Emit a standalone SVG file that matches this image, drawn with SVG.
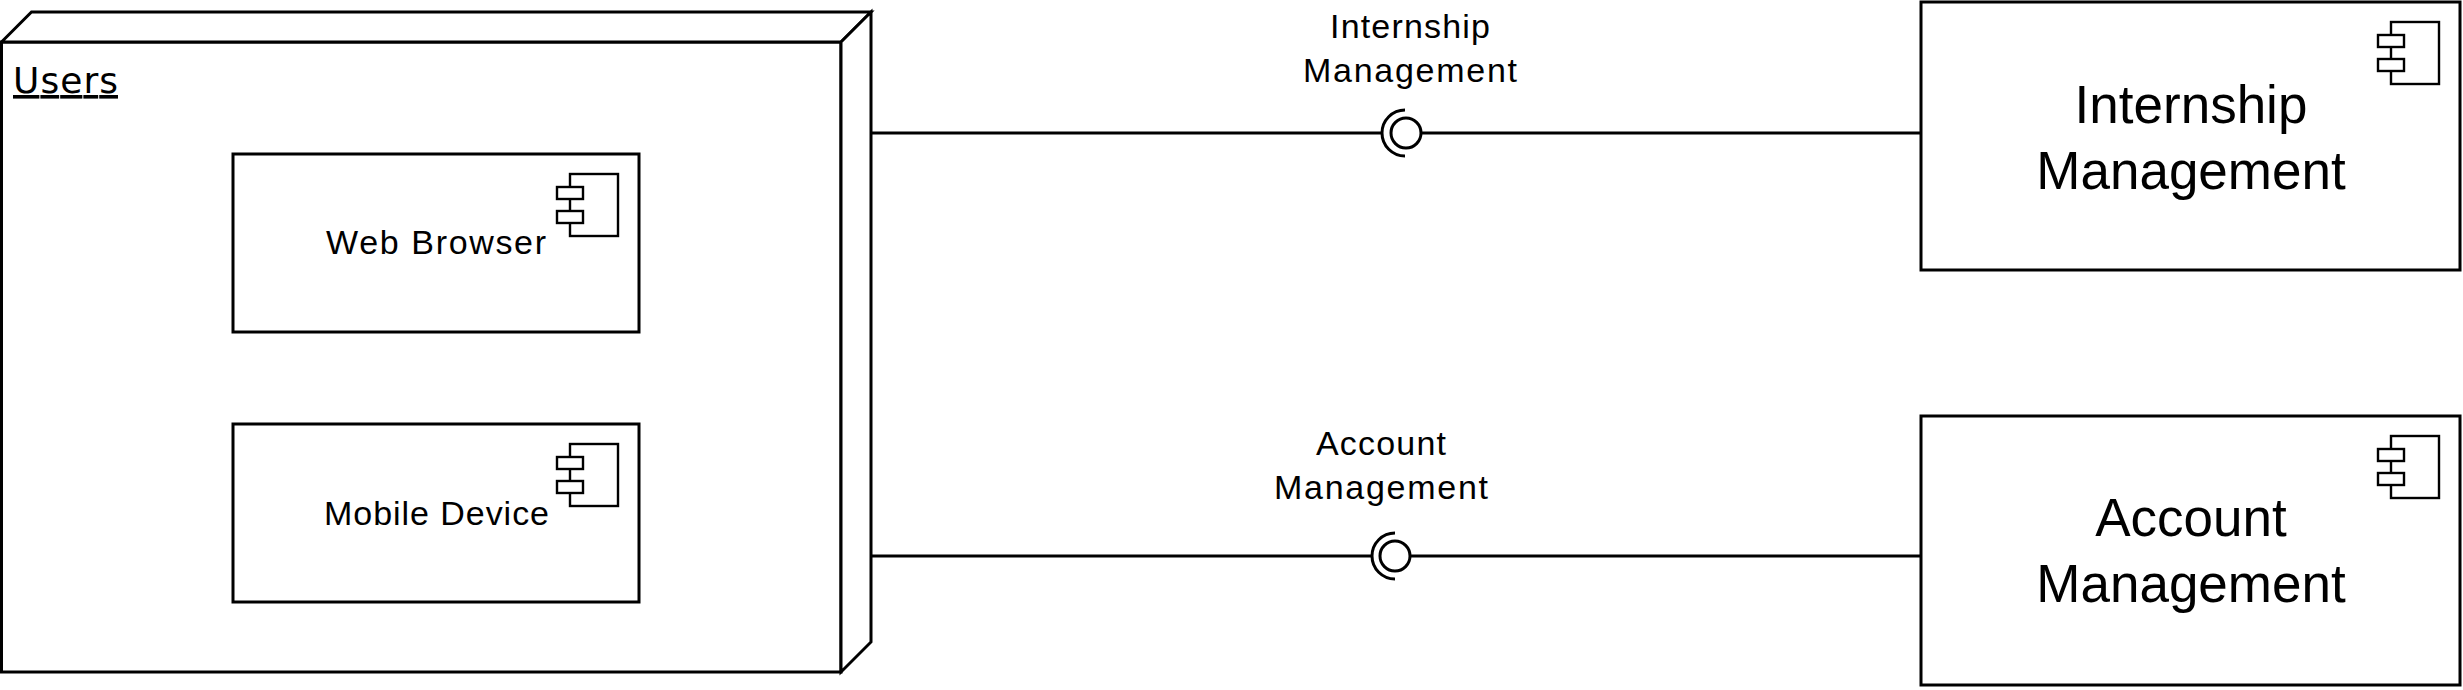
<svg xmlns="http://www.w3.org/2000/svg" width="2463" height="690" viewBox="0 0 2463 690">
<style>
.ln{fill:none;stroke:#000;stroke-width:3}
.bx{fill:#fff;stroke:#000;stroke-width:3}
.ic{fill:#fff;stroke:#000;stroke-width:2.4}
.t{font-family:"Liberation Sans",Arial,Helvetica,sans-serif;fill:#000}
.s31{font-size:34px}
.s53{font-size:53px}
.u{font-family:"DejaVu Sans",Verdana,sans-serif;font-size:36px;text-decoration:underline;fill:#000}
</style>
<defs>
<g id="cicon">
<rect class="ic" x="-69" y="20" width="48" height="62"/>
<rect class="ic" x="-82" y="33" width="26" height="12"/>
<rect class="ic" x="-82" y="57" width="26" height="12"/>
</g>
</defs>
<rect width="2463" height="690" fill="#fff"/>
<g id="connectors">
<line class="ln" x1="871" y1="133" x2="1382" y2="133"/>
<line class="ln" x1="1421" y1="133" x2="1921" y2="133"/>
<path class="ln" d="M1405,110 A23,23 0 0 0 1405,156"/>
<circle class="ln" cx="1406" cy="133" r="15"/>
<line class="ln" x1="871" y1="556" x2="1372" y2="556"/>
<line class="ln" x1="1410" y1="556" x2="1921" y2="556"/>
<path class="ln" d="M1395,533 A23,23 0 0 0 1395,579"/>
<circle class="ln" cx="1395" cy="556" r="15"/>
<text class="t s31" x="1410" y="38" text-anchor="middle" textLength="160" lengthAdjust="spacing">Internship</text>
<text class="t s31" x="1410" y="82" text-anchor="middle" textLength="214" lengthAdjust="spacing">Management</text>
<text class="t s31" x="1381" y="455" text-anchor="middle" textLength="130" lengthAdjust="spacing">Account</text>
<text class="t s31" x="1381" y="499" text-anchor="middle" textLength="214" lengthAdjust="spacing">Management</text>
</g>
<g id="users">
<rect class="bx" x="1.5" y="42" width="839.5" height="630"/>
<path class="bx" d="M1.5,42 L31.5,12 L871,12 L841,42 Z"/>
<path class="bx" d="M841,42 L871,12 L871,642 L841,672 Z"/>
<text class="u" x="13" y="93" textLength="105" lengthAdjust="spacing">Users</text>
</g>
<g id="web-browser">
<rect class="bx" x="233" y="154" width="406" height="178"/>
<use href="#cicon" x="639" y="154"/>
<text class="t s31" x="326" y="254" textLength="220" lengthAdjust="spacing">Web Browser</text>
</g>
<g id="mobile-device">
<rect class="bx" x="233" y="424" width="406" height="178"/>
<use href="#cicon" x="639" y="424"/>
<text class="t s31" x="324" y="525" textLength="225" lengthAdjust="spacing">Mobile Device</text>
</g>
<g id="internship-management">
<rect class="bx" x="1921" y="2" width="539" height="268"/>
<use href="#cicon" x="2460" y="2"/>
<text class="t s53" x="2191" y="123" text-anchor="middle">Internship</text>
<text class="t s53" x="2191" y="189" text-anchor="middle">Management</text>
</g>
<g id="account-management">
<rect class="bx" x="1921" y="416" width="539" height="269"/>
<use href="#cicon" x="2460" y="416"/>
<text class="t s53" x="2191" y="536" text-anchor="middle">Account</text>
<text class="t s53" x="2191" y="602" text-anchor="middle">Management</text>
</g>
</svg>
